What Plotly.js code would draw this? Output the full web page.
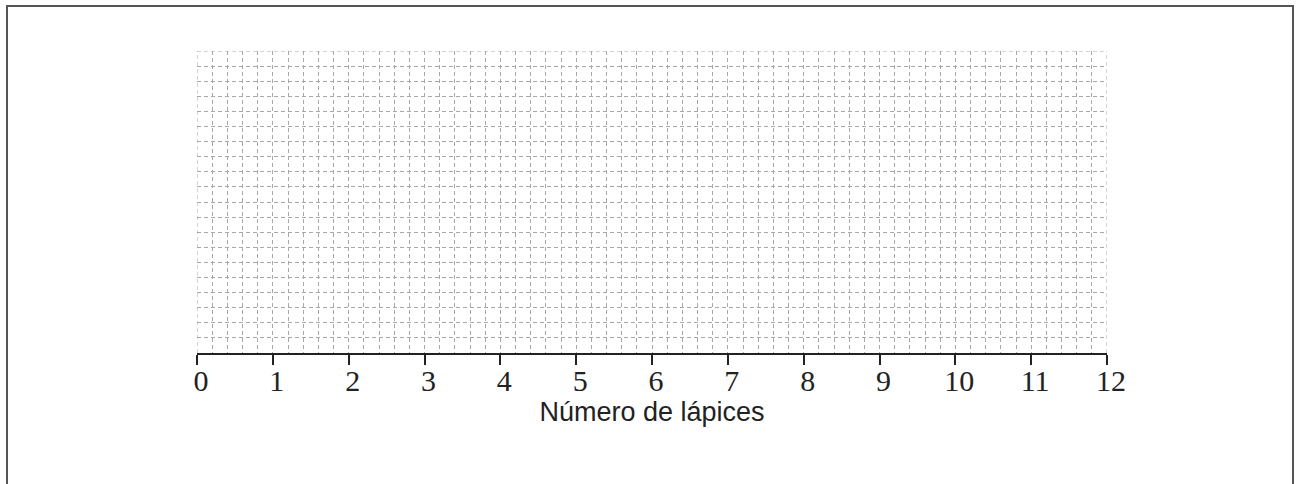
<!DOCTYPE html>
<html>
<head>
<meta charset="utf-8">
<script src="https://cdn.plot.ly/plotly-3.0.1.min.js"></script>
<style>
  html, body { margin: 0; padding: 0; background: #fff; overflow: hidden; }
  #chart { position: absolute; left: 0; top: 0; width: 1300px; height: 484px; }
  #frame { position: absolute; left: 6px; top: 5px; width: 1288px; height: 600px;
           box-sizing: border-box; border: 2px solid #555; pointer-events: none; }
</style>
</head>
<body>
<div id="chart"></div>
<div id="frame"></div>
<script>
// Number line values (x axis) and tick labels
const tickValues = [0, 1, 2, 3, 4, 5, 6, 7, 8, 9, 10, 11, 12];
const tickLabels = ["0", "1", "2", "3", "4", "5", "6", "7", "8", "9", "10", "11", "12"];
const xTitle = "Número de lápices";
// Empty grid: number of grid rows and subdivisions per unit
const gridRows = 20;
const minorStep = 0.2;

const gridColor = "#a8a8a8";
const gridDash = "4px,3px";

const xMin = tickValues[0];
const xMax = tickValues[tickValues.length - 1];

const data = [{
  type: "scatter",
  mode: "markers",
  x: [],
  y: [],
  hoverinfo: "skip",
  showlegend: false
}];

const layout = {
  width: 1300,
  height: 484,
  margin: { l: 197, r: 193, t: 51, b: 131 },
  paper_bgcolor: "#ffffff",
  plot_bgcolor: "#ffffff",
  showlegend: false,
  xaxis: {
    range: [xMin, xMax],
    tickvals: tickValues,
    ticktext: tickLabels,
    ticks: "outside",
    ticklen: 10,
    tickwidth: 2,
    tickcolor: "#222",
    showline: true,
    linecolor: "#222",
    linewidth: 2,
    showgrid: true,
    gridcolor: gridColor,
    gridwidth: 1,
    griddash: gridDash,
    minor: { dtick: minorStep, showgrid: true, gridcolor: gridColor, gridwidth: 1, griddash: gridDash, ticks: "" },
    zeroline: false,
    fixedrange: true,
    tickfont: { family: "Liberation Serif, Times New Roman, serif", size: 30, color: "#222" },
    ticklabelstandoff: -10,
    ticklabelshift: 4,
    title: { text: xTitle, font: { family: "Liberation Sans, Arial, sans-serif", size: 27, color: "#222" }, standoff: 0 }
  },
  yaxis: {
    range: [0, gridRows],
    dtick: 1,
    showticklabels: false,
    ticks: "",
    showline: false,
    showgrid: true,
    gridcolor: gridColor,
    gridwidth: 1,
    griddash: gridDash,
    zeroline: false,
    fixedrange: true
  },
  shapes: [
    { type: "line", xref: "x", yref: "y", x0: xMin, x1: xMax, y0: gridRows, y1: gridRows, layer: "below",
      line: { color: gridColor, width: 1, dash: gridDash } },
    { type: "line", xref: "x", yref: "y", x0: xMin, x1: xMin, y0: 0, y1: gridRows, layer: "below",
      line: { color: gridColor, width: 1, dash: gridDash } },
    { type: "line", xref: "x", yref: "y", x0: xMax, x1: xMax, y0: 0, y1: gridRows, layer: "below",
      line: { color: gridColor, width: 1, dash: gridDash } }
  ]
};

Plotly.newPlot("chart", data, layout, { displayModeBar: false, staticPlot: true });
</script>
</body>
</html>
